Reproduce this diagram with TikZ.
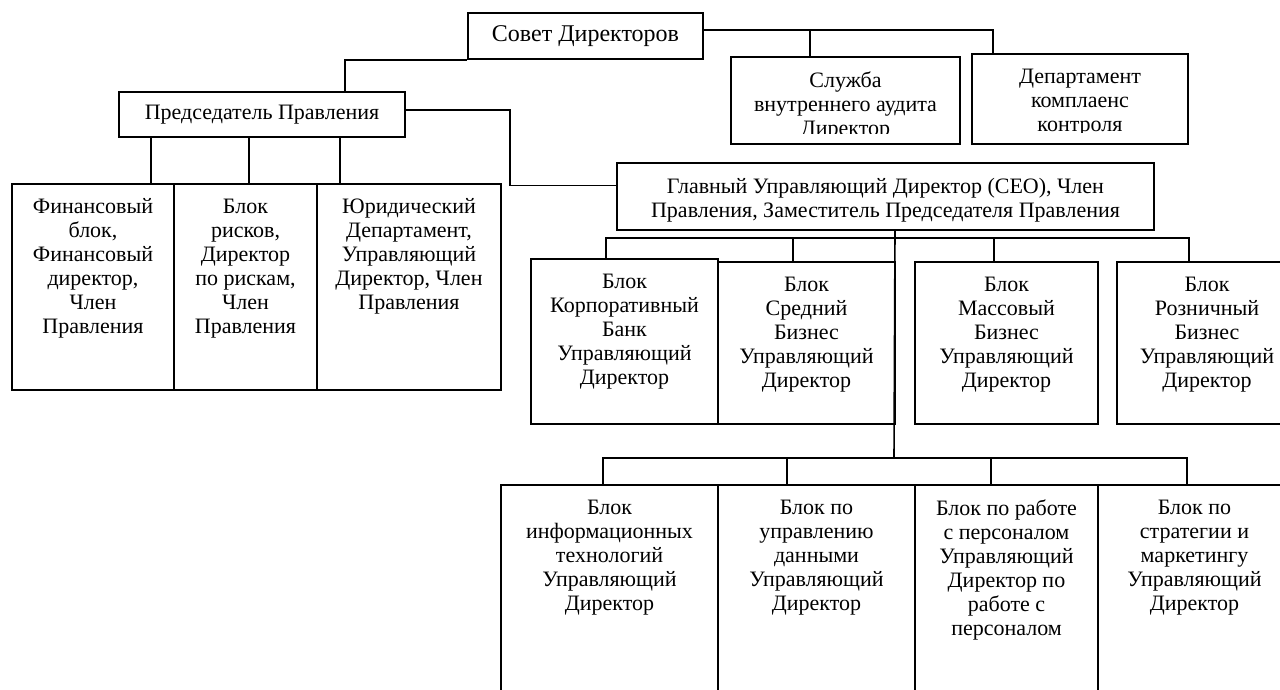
\documentclass[tikz,border=0pt]{standalone}
\usepackage{fontspec}
\setmainfont{Liberation Serif}
\usetikzlibrary{positioning}
\newcommand{\orgfont}{\fontsize{11}{12}\selectfont}

\begin{document}
\begin{tikzpicture}[x=0.5pt,y=-0.5pt,line width=0.8pt,
  box/.style={draw,rectangle,anchor=north west,inner sep=0pt,line width=1pt,font=\orgfont},
  txt/.style={anchor=north,align=center,inner sep=0pt,font=\orgfont}]
\useasboundingbox (0,0) rectangle (1280,690);

\node[box,minimum width=117.5pt,minimum height=23pt,font=\fontsize{12}{13}\selectfont] (sovet) at (467,12) {Совет Директоров};
\node[box,minimum width=114.5pt,minimum height=43.5pt] (audit) at (730,56) {};
\node[box,minimum width=108pt,minimum height=45pt] (dept) at (971,53) {};
\node[box,minimum width=143pt,minimum height=22.5pt] (chair) at (118,91) {Председатель Правления};

\node[box,minimum width=81pt,minimum height=103pt] (fin) at (11,183) {};
\node[box,minimum width=71.5pt,minimum height=103pt] (risk) at (173,183) {};
\node[box,minimum width=92pt,minimum height=103pt] (law) at (316,183) {};

\node[box,minimum width=268.5pt,minimum height=33.5pt] (ceo) at (616,162) {};

\node[box,minimum width=93.5pt,minimum height=82.5pt] (corp) at (530,258) {};
\node[box,minimum width=88.5pt,minimum height=81pt] (mid) at (717,261) {};
\node[box,minimum width=91.5pt,minimum height=81pt] (mass) at (914,261) {};
\node[box,minimum width=90pt,minimum height=81pt] (retail) at (1116,261) {};

\node[box,minimum width=108.5pt,minimum height=108pt] (it) at (500,484) {};
\node[box,minimum width=98.5pt,minimum height=108pt] (data) at (717,484) {};
\node[box,minimum width=91.5pt,minimum height=108pt] (hr) at (914,484) {};
\node[box,minimum width=96.5pt,minimum height=108pt] (strat) at (1097,484) {};

\begin{scope}
\clip (audit.north west) rectangle ([yshift=5.5pt]audit.south east);
\node[txt,below=7.5pt of audit.north] (audittext) {Служба\\внутреннего аудита\\Директор};
\end{scope}
\begin{scope}
\clip (dept.north west) rectangle ([yshift=6pt]dept.south east);
\node[txt,below=7.5pt of dept.north] (depttext) {Департамент\\комплаенс\\контроля};
\end{scope}
\begin{scope}
\clip (ceo.north west) rectangle ([yshift=4.5pt]ceo.south east);
\node[txt,below=7.5pt of ceo.north] (ceotext) {Главный Управляющий Директор (СЕО), Член\\Правления, Заместитель Председателя Правления};
\end{scope}

\node[txt,below=7.5pt of fin.north] (fintext) {Финансовый\\блок,\\Финансовый\\директор,\\Член\\Правления};
\node[txt,below=7.5pt of risk.north] (risktext) {Блок\\рисков,\\Директор\\по рискам,\\Член\\Правления};
\node[txt,below=7.5pt of law.north] (lawtext) {Юридический\\Департамент,\\Управляющий\\Директор, Член\\Правления};

\node[txt,below=7.5pt of corp.north] (corptext) {Блок\\Корпоративный\\Банк\\Управляющий\\Директор};
\node[txt,below=7.5pt of mid.north] (midtext) {Блок\\Средний\\Бизнес\\Управляющий\\Директор};
\node[txt,below=7.5pt of mass.north] (masstext) {Блок\\Массовый\\Бизнес\\Управляющий\\Директор};
\node[txt,below=7.5pt of retail.north] (retailtext) {Блок\\Розничный\\Бизнес\\Управляющий\\Директор};

\node[txt,below=7.5pt of it.north] (ittext) {Блок\\информационных\\технологий\\Управляющий\\Директор};
\node[txt,below=7.5pt of data.north] (datatext) {Блок по\\управлению\\данными\\Управляющий\\Директор};
\node[txt,below=7.5pt of hr.north] (hrtext) {Блок по работе\\с персоналом\\Управляющий\\Директор по\\работе с\\персоналом};
\node[txt,below=7.5pt of strat.north] (strattext) {Блок по\\стратегии и\\маркетингу\\Управляющий\\Директор};

\draw (sovet.south west) -| ([xshift=113.5pt]chair.north west);
\draw ([yshift=3pt]sovet.east) -| ([xshift=40pt]audit.north west);
\draw ([yshift=3pt]sovet.east) -| ([xshift=11pt]dept.north west);

\foreach \dx/\b in {16.5/fin,65.5/risk,111/law}
  \draw ([xshift=\dx pt]chair.south west) -- ([xshift=\dx pt]chair.south west |- \b.north);
\draw ([yshift=2.25pt]chair.east) -- ++(104,0) |- ([yshift=5.5pt]ceo.west);

\coordinate (midbus) at (894,238);
\coordinate (trunk) at (894,458);
\draw ([xshift=4.75pt]ceo.south) -- (trunk);

\draw ([xshift=38pt]corp.north west) |- (midbus) -| ([xshift=36.5pt]retail.north west);
\foreach \dx/\b in {38/mid,40/mass}
  \draw ([xshift=\dx pt]\b.north west) -- ([xshift=\dx pt]\b.north west |- midbus);

\draw ([xshift=51.5pt]it.north west) |- (trunk) -| ([xshift=45pt]strat.north west);
\foreach \dx/\b in {35/data,38.5/hr}
  \draw ([xshift=\dx pt]\b.north west) -- ([xshift=\dx pt]\b.north west |- trunk);
\end{tikzpicture}
\end{document}
